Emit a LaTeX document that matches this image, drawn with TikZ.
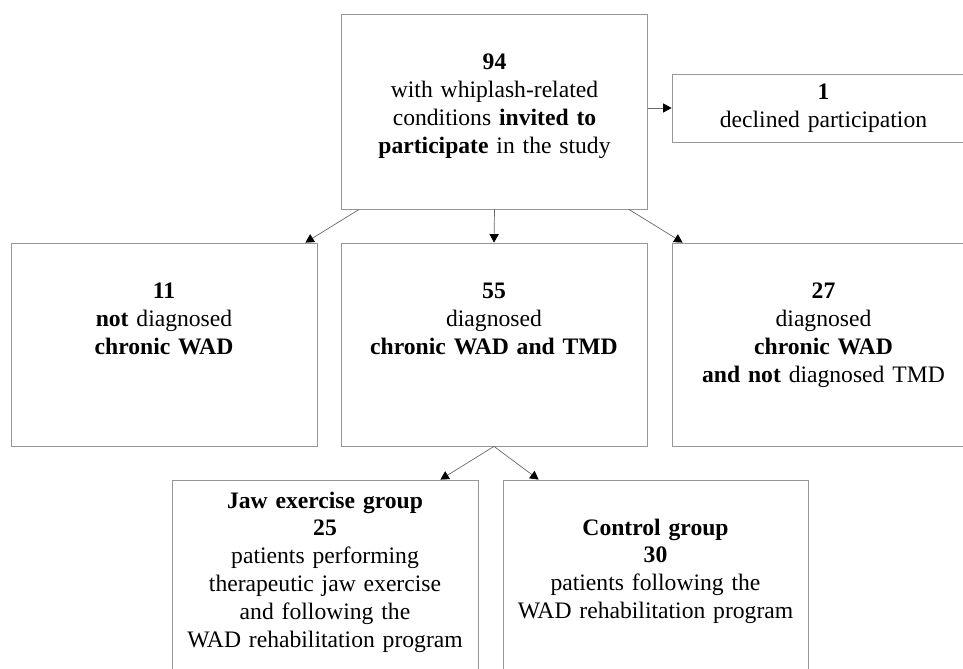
\documentclass[tikz,border=0pt]{standalone}
\usepackage{fontspec}
\setmainfont{Liberation Serif}
\usepackage{tikz}
\usetikzlibrary{arrows.meta}
\definecolor{boxgray}{RGB}{150,150,150}
\definecolor{linegray}{RGB}{105,105,105}
\tikzstyle{flowbox} = [
    rectangle,
    draw=boxgray,
    line width=0.6pt,
    inner sep=0pt,
    text width=7.65cm,
    align=center,
    font=\fontsize{16.8}{19.9}\selectfont
]
\tikzstyle{arrow} = [
    line width=0.5pt,
    color=linegray,
    -{Triangle[length=6pt, width=6.5pt, color=black]}
]

\begin{document}
\begin{tikzpicture}
        \useasboundingbox (0,0) rectangle (24.075,-16.725);
        \clip (0,0) rectangle (24.075,-16.725);

        % Invited
        \node[flowbox, text height=1.4cm, text depth=3.475cm] (invited) at (12.3625,-2.7875) {\textbf{94}\\with whiplash-related\\conditions \textbf{invited to}\\\textbf{participate} in the study};
        \node[flowbox, text width=7.575cm, text height=0.65cm, text depth=1.05cm] (declined) at (20.5875,-2.7) {\textbf{1}\\declined participation};

        % Diagnosis
        \node[flowbox, text height=1.4cm, text depth=3.675cm] (notwad) at (4.1,-8.6125) {\textbf{11}\\\textbf{not} diagnosed\\\textbf{chronic WAD}};
        \node[flowbox, text height=1.4cm, text depth=3.675cm] (both) at (12.35,-8.6125) {\textbf{55}\\diagnosed\\\textbf{chronic WAD and TMD}};
        \node[flowbox, text width=7.575cm, text height=1.4cm, text depth=3.675cm] (wadonly) at (20.5875,-8.6125) {\textbf{27}\\diagnosed\\\textbf{chronic WAD}\\\textbf{and not} diagnosed TMD};

        % Groups
        \node[flowbox, text height=0.7cm, text depth=4.3cm] (jaw) at (8.125,-14.5) {\textbf{Jaw exercise group}\\\textbf{25}\\patients performing\\therapeutic jaw exercise\\and following the\\WAD rehabilitation program};
        \node[flowbox, text width=7.625cm, text height=1.375cm, text depth=3.625cm] (control) at (16.3875,-14.5) {\textbf{Control group}\\\textbf{30}\\patients following the\\WAD rehabilitation program};

        % Arrows from invited
        \draw[arrow] (invited.east |- declined.west) -- (declined.west);
        \draw[arrow] ([xshift=0.45cm]invited.south west) -- ([xshift=-0.3cm]notwad.north east);
        \draw[arrow] (invited.south) -- (both.north);
        \draw[arrow] ([xshift=-0.475cm]invited.south east) -- ([xshift=0.275cm]wadonly.north west);

        % Arrows to groups
        \draw[arrow] (both.south) -- ([xshift=-0.95cm]jaw.north east);
        \draw[arrow] (both.south) -- ([xshift=0.9cm]control.north west);
    \end{tikzpicture}
\end{document}
